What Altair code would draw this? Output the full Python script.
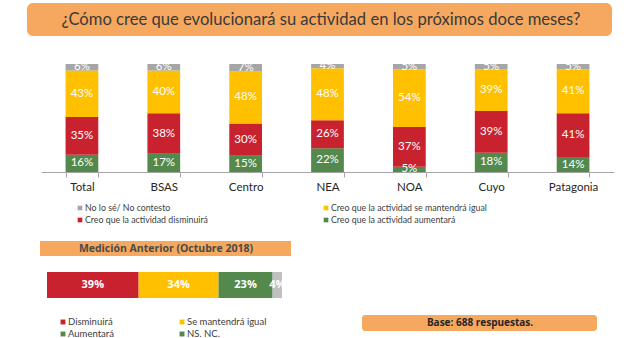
import altair as alt
import pandas as pd

# ---------------- data ----------------
titulo = "¿Cómo cree que evolucionará su actividad en los próximos doce meses?"
regiones = ["Total", "BSAS", "Centro", "NEA", "NOA", "Cuyo", "Patagonia"]
aumentara = [16, 17, 15, 22, 5, 18, 14]
disminuira = [35, 38, 30, 26, 37, 39, 41]
igual = [43, 40, 48, 48, 54, 39, 41]
nosabe = [6, 6, 7, 4, 5, 5, 5]

series = [
    "Creo que la actividad aumentará",
    "Creo que la actividad disminuirá",
    "Creo que la actividad se mantendrá igual",
    "No lo sé/ No contesto",
]
colores = ["#53894D", "#C9222F", "#FFC000", "#A6A6A6"]

leyenda_orden = [
    "No lo sé/ No contesto",
    "Creo que la actividad se mantendrá igual",
    "Creo que la actividad disminuirá",
    "Creo que la actividad aumentará",
]

subtitulo = "Medición Anterior (Octubre 2018)"
anterior_cat = ["Disminuirá", "Se mantendrá igual", "Aumentará", "NS. NC."]
anterior_val = [39, 34, 23, 4]
anterior_col = ["#C9222F", "#FFC000", "#53894D", "#BFBFBF"]
anterior_ley_col = ["#C9222F", "#FFC000", "#53894D", "#53894D"]

base_txt = "Base: 688 respuestas."

ORANGE = "#F5A85E"
FONT = "Lato"
BFONT = "Open Sans"

# ---------------- tables ----------------
rows = []
for i, r in enumerate(regiones):
    for k, (s, vals) in enumerate(zip(series, [aumentara, disminuira, igual, nosabe])):
        rows.append({"region": r, "serie": s, "valor": vals[i], "orden": k})
df = pd.DataFrame(rows)

ley = pd.DataFrame({
    "label": leyenda_orden,
    "color": [colores[series.index(s)] for s in leyenda_orden],
    "col": [0, 1, 0, 1],
    "row": [0, 0, 1, 1],
})

prev = pd.DataFrame({
    "cat": anterior_cat,
    "valor": anterior_val,
    "orden": list(range(len(anterior_cat))),
    "fila": ["Anterior"] * len(anterior_cat),
})

ley2 = pd.DataFrame({
    "label": anterior_cat,
    "color": anterior_ley_col,
    "col": [0, 1, 0, 1],
    "row": [0, 0, 1, 1],
})

# ---------------- scales ----------------
def xs():
    return alt.Scale(domain=regiones, range=[41, 614], paddingInner=0.6, paddingOuter=0.3)

def ys():
    return alt.Scale(domain=[0, 1], range=[172, 64])

# ---------------- layers ----------------
banner = alt.Chart(pd.DataFrame({"t": [titulo]})).mark_rect(
    color=ORANGE, cornerRadius=6
).encode(x=alt.value(27), x2=alt.value(612), y=alt.value(3), y2=alt.value(36))

banner_t = alt.Chart(pd.DataFrame({"t": [titulo]})).mark_text(
    font=FONT, fontSize=16.6, color="#3A3A3A", align="center", baseline="middle"
).encode(x=alt.value(321), y=alt.value(19.5), text="t:N")

bars = alt.Chart(df).mark_bar().encode(
    x=alt.X("region:N", sort=regiones, scale=xs(),
            axis=alt.Axis(title=None, orient="bottom", offset=-166, labelAngle=0,
                          labelFontSize=11.5, labelColor="#262626", labelFont=FONT,
                          domainColor="#A6A6A6", tickColor="#A6A6A6",
                          tickBand="extent", tickSize=5, labelPadding=4)),
    y=alt.Y("valor:Q", stack="normalize", scale=ys(), axis=None),
    color=alt.Color("serie:N", scale=alt.Scale(domain=series, range=colores), legend=None),
    order=alt.Order("orden:Q"),
)

bar_txt = alt.Chart(df).transform_joinaggregate(
    total="sum(valor)", groupby=["region"]
).transform_window(
    cum="sum(valor)", sort=[alt.SortField("orden")], groupby=["region"], frame=[None, 0]
).transform_calculate(
    mid="(datum.cum - datum.valor/2)/datum.total", lab="datum.valor + '%'"
).mark_text(font=FONT, fontSize=11.5, color="white", baseline="middle").encode(
    x=alt.X("region:N", sort=regiones, scale=xs(), axis=None),
    y=alt.Y("mid:Q", scale=ys(), axis=None),
    text="lab:N",
)

ley_sq = alt.Chart(ley).mark_point(shape="square", filled=True, size=22, opacity=1).encode(
    x=alt.X("col:Q", scale=alt.Scale(domain=[0, 1], range=[80, 326]), axis=None),
    y=alt.Y("row:Q", scale=alt.Scale(domain=[0, 1], range=[208, 220]), axis=None),
    color=alt.Color("color:N", scale=None),
)
ley_tx = alt.Chart(ley).mark_text(font=FONT, fontSize=8.8, color="#404040", align="left",
                                  baseline="middle", dx=5).encode(
    x=alt.X("col:Q", scale=alt.Scale(domain=[0, 1], range=[80, 326]), axis=None),
    y=alt.Y("row:Q", scale=alt.Scale(domain=[0, 1], range=[208, 220]), axis=None),
    text="label:N",
)

sub = alt.Chart(pd.DataFrame({"t": [subtitulo]})).mark_rect(color=ORANGE).encode(
    x=alt.value(40), x2=alt.value(291), y=alt.value(241), y2=alt.value(256))
sub_t = alt.Chart(pd.DataFrame({"t": [subtitulo]})).mark_text(
    font=BFONT, fontWeight="bold", fontSize=10.5, color="#4A4A4A", baseline="middle"
).encode(x=alt.value(166), y=alt.value(248.5), text="t:N")

def hx():
    return alt.Scale(domain=[0, 100], range=[47, 282])

def hy():
    return alt.Scale(domain=["Anterior"], range=[272, 298], paddingInner=0, paddingOuter=0)

hbar = alt.Chart(prev).mark_bar().encode(
    x=alt.X("valor:Q", stack="zero", scale=hx(), axis=None),
    y=alt.Y("fila:N", scale=hy(), axis=None),
    color=alt.Color("cat:N", scale=alt.Scale(domain=anterior_cat, range=anterior_col), legend=None),
    order=alt.Order("orden:Q"),
)

hbar_txt = alt.Chart(prev).transform_window(
    cum="sum(valor)", sort=[alt.SortField("orden")], frame=[None, 0]
).transform_calculate(
    mid="datum.cum - datum.valor/2", lab="datum.valor + '%'"
).mark_text(font=BFONT, fontWeight="bold", fontSize=11, color="white", baseline="middle").encode(
    x=alt.X("mid:Q", scale=hx(), axis=None),
    y=alt.Y("fila:N", scale=hy(), axis=None),
    text="lab:N",
)

ley2_sq = alt.Chart(ley2).mark_point(shape="square", filled=True, size=24, opacity=1).encode(
    x=alt.X("col:Q", scale=alt.Scale(domain=[0, 1], range=[63, 182]), axis=None),
    y=alt.Y("row:Q", scale=alt.Scale(domain=[0, 1], range=[322, 334]), axis=None),
    color=alt.Color("color:N", scale=None),
)
ley2_tx = alt.Chart(ley2).mark_text(font=FONT, fontSize=9.5, color="#404040", align="left",
                                    baseline="middle", dx=5).encode(
    x=alt.X("col:Q", scale=alt.Scale(domain=[0, 1], range=[63, 182]), axis=None),
    y=alt.Y("row:Q", scale=alt.Scale(domain=[0, 1], range=[322, 334]), axis=None),
    text="label:N",
)

base = alt.Chart(pd.DataFrame({"t": [base_txt]})).mark_rect(color=ORANGE, cornerRadius=3).encode(
    x=alt.value(362), x2=alt.value(597), y=alt.value(315), y2=alt.value(331))
base_t = alt.Chart(pd.DataFrame({"t": [base_txt]})).mark_text(
    font=BFONT, fontWeight="bold", fontSize=10, color="#262626", baseline="middle"
).encode(x=alt.value(480), y=alt.value(323), text="t:N")

chart = alt.layer(
    banner, banner_t, bars, bar_txt, ley_sq, ley_tx, sub, sub_t,
    hbar, hbar_txt, ley2_sq, ley2_tx, base, base_t,
).resolve_scale(
    x="independent", y="independent", color="independent"
).properties(
    width=640, height=338, autosize=alt.AutoSizeParams(type="none"), padding=0,
    background="white",
).configure_view(stroke=None)

chart.save("out.html", embed_options={"renderer": "svg", "actions": False})
